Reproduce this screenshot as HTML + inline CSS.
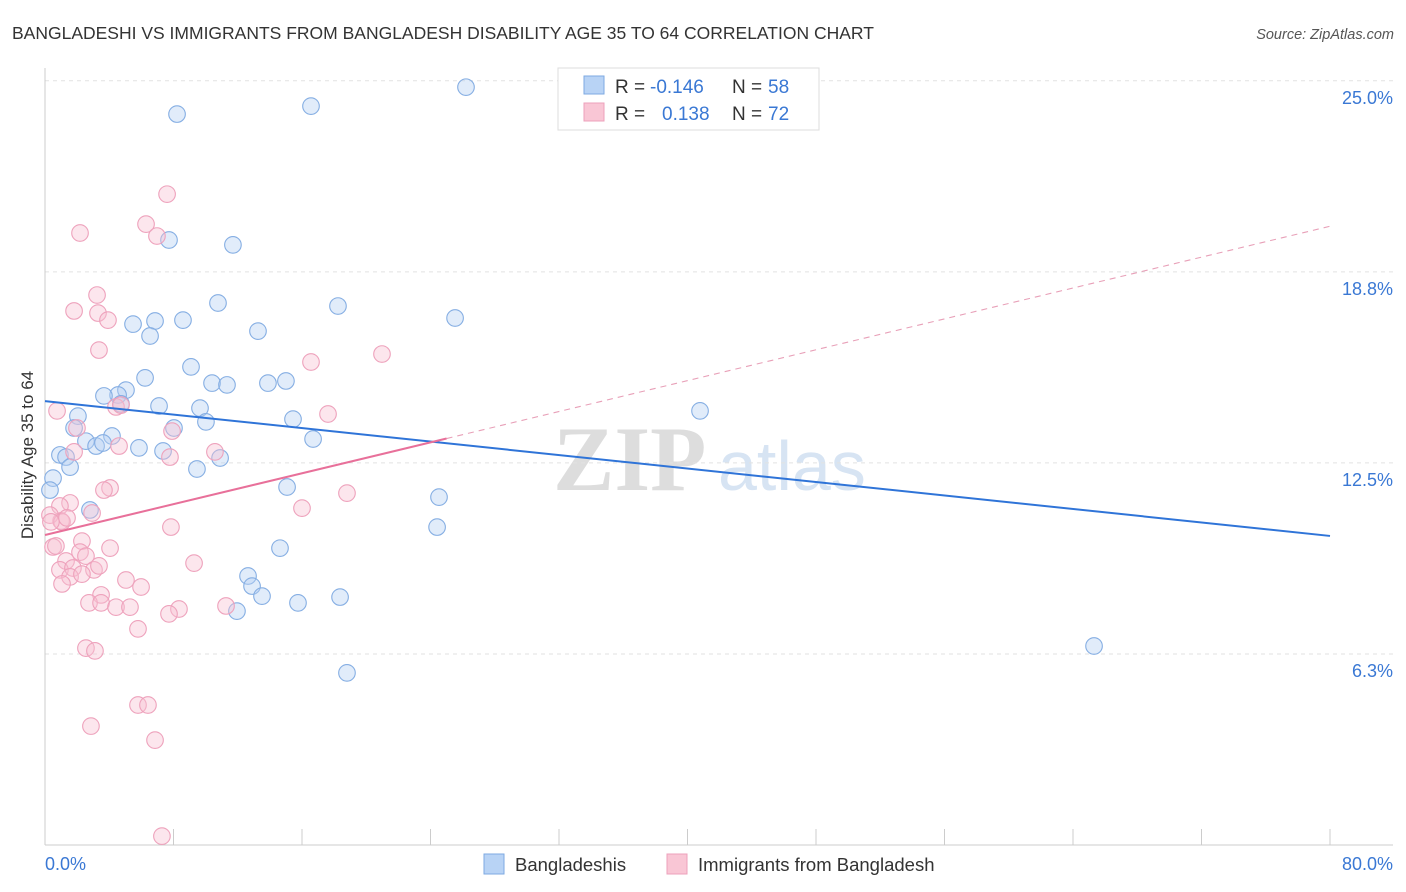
<!DOCTYPE html>
<html><head><meta charset="utf-8"><style>
body{margin:0;background:#fff;font-family:"Liberation Sans",sans-serif;}
svg{display:block}
</style></head><body>
<svg id="chart" width="1406" height="892">
<text x="12" y="39" font-size="17.5" fill="#333">BANGLADESHI VS IMMIGRANTS FROM BANGLADESH DISABILITY AGE 35 TO 64 CORRELATION CHART</text>
<text x="1394" y="39" font-size="14.5" fill="#555" font-style="italic" text-anchor="end">Source: ZipAtlas.com</text>
<g><text x="553" y="490" font-size="92" fill="#ddd" font-family="Liberation Serif,serif" font-weight="bold">ZIP</text><text x="718" y="490" font-size="70" fill="#d7e4f3">atlas</text></g>
<g id="grid"></g>
<g id="axes"></g>
<g id="pts"></g>
<g id="trends"></g>
<text transform="translate(33,455) rotate(-90)" font-size="17" fill="#333" text-anchor="middle">Disability Age 35 to 64</text>
<text x="45" y="870" font-size="18" fill="#3a78d4">0.0%</text>
<text x="1393" y="870" font-size="18" fill="#3a78d4" text-anchor="end">80.0%</text>
<g>
<rect x="558" y="68" width="261" height="62" fill="#fff" stroke="#ddd"/>
<rect x="584" y="76" width="20" height="18" fill="#b8d3f5" stroke="#7eaae2"/>
<rect x="584" y="103" width="20" height="18" fill="#f9c6d5" stroke="#eda0bb"/>
<text x="615" y="93" font-size="19" fill="#333">R = </text><text x="650" y="93" font-size="19" fill="#3a78d4">-0.146</text>
<text x="732" y="93" font-size="19" fill="#333">N = </text><text x="768" y="93" font-size="19" fill="#3a78d4">58</text>
<text x="615" y="120" font-size="19" fill="#333">R = </text><text x="662" y="120" font-size="19" fill="#3a78d4">0.138</text>
<text x="732" y="120" font-size="19" fill="#333">N = </text><text x="768" y="120" font-size="19" fill="#3a78d4">72</text>
</g>
<g>
<rect x="484" y="854" width="20" height="20" fill="#b8d3f5" stroke="#7eaae2"/>
<text x="515" y="871" font-size="18.5" fill="#333">Bangladeshis</text>
<rect x="667" y="854" width="20" height="20" fill="#f9c6d5" stroke="#eda0bb"/>
<text x="698" y="871" font-size="18.5" fill="#333">Immigrants from Bangladesh</text>
</g>
</svg>
<script>
const yTicks=[6.25,12.5,18.75,25];
const yTickLabels=["6.3%","12.5%","18.8%","25.0%"];
const blueX=[8.22,16.56,26.21,7.72,11.70,10.77,18.24,25.53,5.48,6.85,8.59,6.54,13.26,9.09,6.23,10.40,11.33,13.88,15.00,5.04,4.55,3.67,4.73,7.10,9.65,10.02,15.44,40.78,2.05,1.81,4.17,2.55,3.18,3.61,5.85,7.35,8.03,16.69,10.90,9.46,0.93,1.31,1.56,0.50,15.07,24.53,2.80,24.41,14.63,12.64,12.89,13.51,11.95,15.75,18.37,65.31,18.80,0.31];
const blueY=[23.91,24.17,24.79,19.79,19.63,17.73,17.63,17.24,17.04,17.14,17.17,16.65,16.81,15.64,15.28,15.11,15.05,15.11,15.18,14.88,14.72,14.69,14.43,14.36,14.29,13.84,13.93,14.20,14.03,13.64,13.38,13.21,13.05,13.15,12.99,12.89,13.64,13.28,12.66,12.30,12.76,12.69,12.36,12.00,11.71,11.38,10.96,10.40,9.71,8.80,8.47,8.14,7.65,7.92,8.11,6.51,5.63,11.61];
const pinkX=[7.60,6.29,6.97,2.18,3.24,1.81,3.30,3.92,3.36,16.56,20.98,0.75,4.42,4.73,17.62,1.99,7.91,4.61,1.81,7.78,10.58,4.05,3.67,18.80,16.00,1.56,0.93,2.93,1.00,0.31,1.06,0.37,1.37,7.84,0.50,0.68,2.30,4.05,2.18,2.55,1.31,0.93,1.74,3.05,3.36,1.56,2.30,9.28,5.04,5.98,1.06,3.49,2.74,3.49,4.42,5.29,8.34,7.72,11.27,5.79,2.55,3.11,5.79,6.41,2.86,6.85,7.28];
const pinkY=[21.29,20.31,19.92,20.02,17.99,17.47,17.40,17.17,16.19,15.80,16.06,14.20,14.33,14.39,14.10,13.64,13.54,13.05,12.86,12.69,12.86,11.68,11.61,11.51,11.02,11.19,11.09,10.86,10.60,10.79,10.57,10.57,10.70,10.40,9.75,9.78,9.94,9.71,9.58,9.45,9.29,9.00,9.06,9.00,9.13,8.77,8.86,9.22,8.67,8.44,8.54,8.18,7.92,7.92,7.78,7.78,7.72,7.56,7.82,7.07,6.44,6.35,4.58,4.58,3.89,3.43,0.29];
const blueTrend=[14.52,10.11];
const pinkTrend=[10.14,20.24];
const pinkSolidEnd=25.0;
const NS="http://www.w3.org/2000/svg";
const X=v=>45+v/80*1285, Y=v=>845-v*30.57;
function mk(t,a,p){const e=document.createElementNS(NS,t);for(const k in a)e.setAttribute(k,a[k]);p.appendChild(e);return e;}
const grid=document.getElementById('grid'),axes=document.getElementById('axes'),pts=document.getElementById('pts'),tr=document.getElementById('trends');
yTicks.forEach((t,i)=>{
 const l=mk('line',{x1:45,x2:1393,y1:Y(t),y2:Y(t),stroke:'#e2e2e2','stroke-dasharray':'4,4'},grid);
 
 
 const tx=mk('text',{x:1393,y:Y(t)+23,'font-size':18,fill:'#3a78d4','text-anchor':'end'},grid);
 tx.textContent=yTickLabels[i];
 
 
});
mk('line',{x1:45,x2:45,y1:68,y2:845,stroke:'#ccc'},axes);
mk('line',{x1:45,x2:1393,y1:845,y2:845,stroke:'#ccc'},axes);
for(let v=0;v<=80;v+=8){const t=mk('line',{x1:X(v),x2:X(v),y1:829,y2:845,stroke:'#ccc'},axes);
 
 }
function dots(xs,ys,fill,stroke,name){xs.forEach((x,i)=>{const c=mk('circle',{cx:X(x),cy:Y(ys[i]),r:8.3,fill:fill,'fill-opacity':0.4,stroke:stroke,'stroke-width':1.1},pts);
 
 });}
dots(blueX,blueY,'#b3cff2','#85aee3','blue-point');
dots(pinkX,pinkY,'#f7c0d1','#eea2bc','pink-point');
const bl=mk('line',{x1:X(0),y1:Y(blueTrend[0]),x2:X(80),y2:Y(blueTrend[1]),stroke:'#2f74d8','stroke-width':2},tr);


const pAt=x=>pinkTrend[0]+(pinkTrend[1]-pinkTrend[0])*x/80;
const ps=mk('line',{x1:X(0),y1:Y(pAt(0)),x2:X(pinkSolidEnd),y2:Y(pAt(pinkSolidEnd)),stroke:'#e8709a','stroke-width':2},tr);


const pd=mk('line',{x1:X(pinkSolidEnd),y1:Y(pAt(pinkSolidEnd)),x2:X(80),y2:Y(pAt(80)),stroke:'#e8a0b8','stroke-width':1.1,'stroke-dasharray':'6,5'},tr);


</script>
</body></html>
